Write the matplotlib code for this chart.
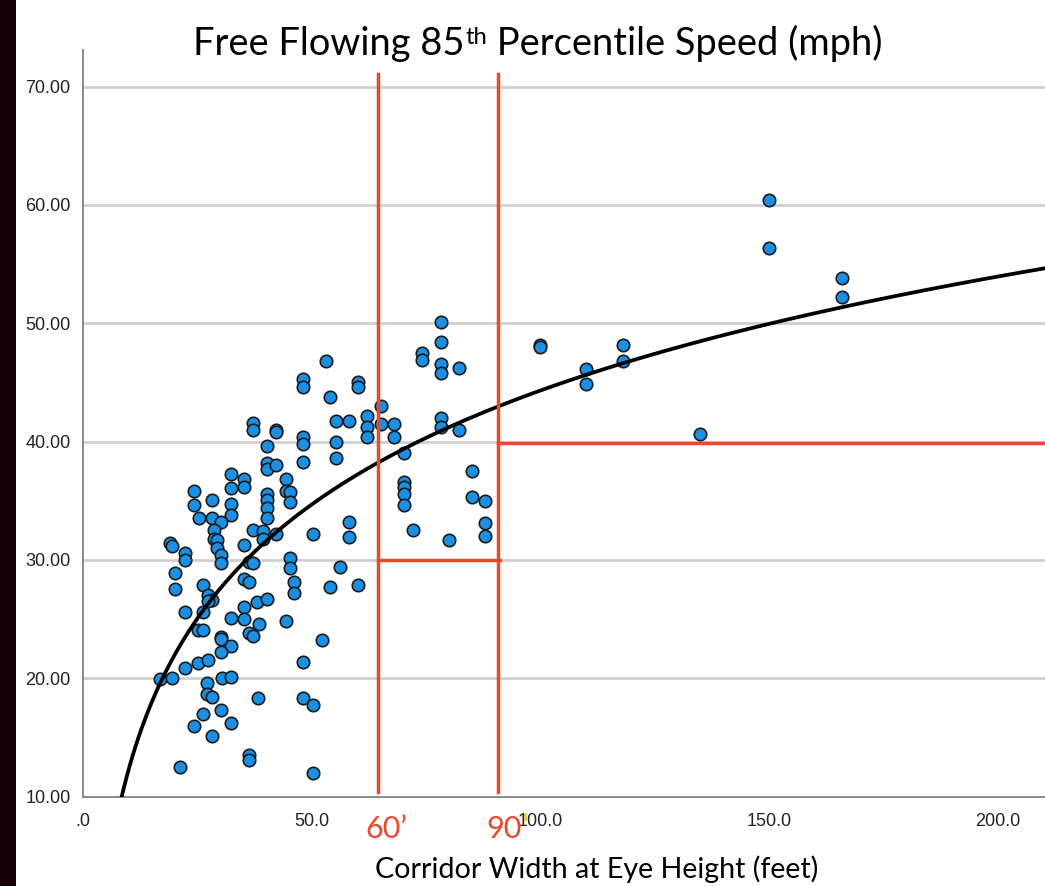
import numpy as np
import matplotlib
matplotlib.use('Agg')
import matplotlib.pyplot as plt
from matplotlib.patches import Rectangle

# ---------------- data ----------------
width_ft = [
    53.2, 48.2, 48.2, 60.1, 60.1, 54.1, 65.2, 55.3, 58.1, 62.1, 62.1, 62.1,
    65.2, 68.1, 68.1, 37.2, 37.2, 42.2, 42.2, 48.2, 48.2, 55.3, 40.2, 48.2,
    55.3, 40.2, 40.2, 42.2, 32.3, 35.3, 35.3, 44.3, 44.3, 45.2, 45.2, 24.2,
    24.2, 28.3, 32.3, 32.3, 32.3, 40.2, 40.2, 40.2, 40.2, 25.3, 28.3, 30.2,
    37.2, 39.3, 39.3, 42.2, 50.2, 58.1, 58.1, 19.1, 19.4, 28.6, 28.6, 29.2, 35.2,
    22.4, 22.4, 29.3, 30.2, 30.2, 20.2, 20.2, 26.3, 36.3, 37.2, 45.2, 45.2,
    56.2, 46.1, 46.1, 54.1, 60.1, 35.2, 36.3, 27.3, 28.3, 27.3, 22.3, 26.3,
    35.2, 38.1, 40.3, 32.3, 35.2, 38.4, 44.3, 25.2, 26.3, 36.3, 37.2, 30.2,
    30.2, 32.3, 30.2, 52.2, 22.4, 25.2, 27.3, 16.9, 19.4, 27.2, 27.2, 28.3,
    30.4, 32.3, 48.2, 38.2, 48.2, 50.2, 26.3, 30.2, 24.2, 32.3, 28.3, 36.3,
    36.3, 21.2, 50.2,
    78.2, 78.2, 74.2, 74.2, 78.2, 78.2, 82.2, 100.0, 100.0, 78.2, 78.2, 82.2,
    70.2, 70.2, 70.2, 70.2, 70.2, 85.1, 85.1, 88.0, 88.0, 88.0, 72.2, 80.1,
    150.1, 150.1, 166.0, 166.0, 135.0, 110.0, 110.0, 118.1, 118.1,
]
speed_mph = [
    46.8, 45.3, 44.6, 45.0, 44.6, 43.8, 43.0, 41.7, 41.7, 42.2, 41.2, 40.4,
    41.5, 41.5, 40.4, 41.6, 41.0, 41.0, 40.8, 40.4, 39.8, 40.0, 39.6, 38.3,
    38.6, 38.2, 37.7, 38.0, 37.3, 36.8, 36.2, 36.8, 35.8, 35.7, 34.9, 35.8,
    34.6, 35.1, 36.1, 34.7, 33.8, 35.6, 35.1, 34.4, 33.5, 33.5, 33.5, 33.2,
    32.5, 32.4, 31.8, 32.2, 32.2, 33.2, 31.9, 31.4, 31.2, 32.5, 31.8, 31.7, 31.3,
    30.6, 30.0, 31.0, 30.4, 29.7, 28.9, 27.5, 27.9, 29.8, 29.7, 30.2, 29.3,
    29.4, 28.1, 27.2, 27.7, 27.9, 28.4, 28.1, 27.0, 26.6, 26.5, 25.6, 25.6,
    26.0, 26.4, 26.7, 25.1, 25.0, 24.6, 24.8, 24.1, 24.1, 23.8, 23.6, 23.5,
    23.3, 22.7, 22.2, 23.2, 20.9, 21.3, 21.5, 19.9, 20.0, 19.6, 18.7, 18.4,
    20.0, 20.1, 21.4, 18.3, 18.3, 17.7, 17.0, 17.3, 16.0, 16.2, 15.1, 13.5,
    13.1, 12.5, 12.0,
    50.1, 48.4, 47.5, 46.9, 46.6, 45.8, 46.2, 48.2, 48.0, 42.0, 41.2, 41.0,
    39.0, 36.6, 36.2, 35.6, 34.6, 37.5, 35.3, 35.0, 33.1, 32.0, 32.5, 31.7,
    60.4, 56.4, 53.8, 52.2, 40.6, 46.1, 44.9, 48.2, 46.8,
]

# logarithmic fit: speed = fit_a + fit_b * ln(width)
fit_a = -19.7
fit_b = 13.9

x_ticks = [0, 50, 100, 150, 200]
x_tick_labels = ['.0', '50.0', '100.0', '150.0', '200.0']
y_ticks = [10, 20, 30, 40, 50, 60, 70]

# annotation lines (drawn in data units)
box_left_x = 64.5
box_right_x = 90.8
box_bottom_y = 29.95
right_level_y = 39.9
guide_top_y = 71.1
guide_bottom_y = 10.4

title_main = 'Free Flowing 85'
title_sup = 'th'
title_rest = ' Percentile Speed (mph)'
x_label = 'Corridor Width at Eye Height (feet)'
mark_60 = '60\u2019'
mark_90 = '90'
mark_90_q = '\u2019'

# ---------------- styling ----------------
W, H = 1045, 886
fig = plt.figure(figsize=(W / 100, H / 100), dpi=100)
fig.patch.set_facecolor('white')

red = '#E64A2A'
blue = '#1A8FE3'

ax_left = 83 / W
ax_bottom = (H - 796.5) / H
ax_top = 50 / H
ax = fig.add_axes([ax_left, ax_bottom, 1 - ax_left, 1 - ax_top - ax_bottom])
ax.set_xlim(0, 210.4)
ax.set_ylim(10, 73.1)

for s in ['top', 'right']:
    ax.spines[s].set_visible(False)
for s in ['left', 'bottom']:
    ax.spines[s].set_color('#8a8a8a')
    ax.spines[s].set_linewidth(1.4)

ax.set_yticks(y_ticks)
ax.set_yticklabels([f'{v:.2f}' for v in y_ticks])
ax.set_xticks(x_ticks)
ax.set_xticklabels(x_tick_labels)
ax.tick_params(axis='both', length=0, labelsize=13, colors='#222222')
ax.tick_params(axis='y', pad=9)
ax.tick_params(axis='x', pad=12)
for lab in ax.get_xticklabels() + ax.get_yticklabels():
    lab.set_fontfamily('Liberation Sans')

ax.grid(axis='y', color='#cfcfcf', linewidth=2.0, zorder=0)
ax.set_axisbelow(True)

ax.scatter(width_ft, speed_mph, s=80, facecolor=blue, edgecolor='#1b1b1b',
           linewidth=1.2, zorder=3)

xs = np.linspace(7.5, 211, 600)
ax.plot(xs, fit_a + fit_b * np.log(xs), color='black', linewidth=2.7,
        zorder=4, solid_capstyle='butt')

lw_red = 2.5
ax.plot([box_left_x, box_left_x], [guide_bottom_y, guide_top_y], color=red,
        lw=lw_red, zorder=5, clip_on=False)
ax.plot([box_right_x, box_right_x], [guide_bottom_y, guide_top_y], color=red,
        lw=lw_red, zorder=5, clip_on=False)
ax.plot([box_left_x, box_right_x + 0.5], [box_bottom_y, box_bottom_y],
        color=red, lw=lw_red, zorder=5)
ax.plot([box_right_x, 212], [right_level_y, right_level_y], color=red,
        lw=lw_red, zorder=5, clip_on=False)

# dark strip on the left edge
fig.patches.append(Rectangle((0, 0), 16 / W, 1, transform=fig.transFigure,
                             facecolor='#150008', edgecolor='none', zorder=10))

# ---------------- text ----------------
title_font = 'Lato'
fig.canvas.draw()
r = fig.canvas.get_renderer()

def fit_size(txt, target_px):
    bb = txt.get_window_extent(renderer=r)
    txt.set_fontsize(txt.get_fontsize() * target_px / bb.width)

# title composed of three pieces
t_y = 1 - 55 / H
p1 = fig.text(0, t_y, title_main, fontsize=24, family=title_font, va='baseline')
p2 = fig.text(0, t_y, title_sup, fontsize=15, family=title_font, va='baseline')
p3 = fig.text(0, t_y, title_rest, fontsize=24, family=title_font, va='baseline')
fig.canvas.draw()
w1 = p1.get_window_extent(r).width
w2 = p2.get_window_extent(r).width
w3 = p3.get_window_extent(r).width
scale = 690 / (w1 + w2 + w3)
for p in (p1, p2, p3):
    p.set_fontsize(p.get_fontsize() * scale)
fig.canvas.draw()
w1 = p1.get_window_extent(r).width
w2 = p2.get_window_extent(r).width
x0 = 193
p1.set_x(x0 / W)
p2.set_x((x0 + w1 + 1) / W)
p2.set_y(t_y + 11 / H)
p3.set_x((x0 + w1 + w2 + 1) / W)

xl = fig.text(597 / W, 1 - 878 / H, x_label, fontsize=18, family=title_font,
              ha='center', va='baseline')
fig.canvas.draw()
fit_size(xl, 442)

m60 = fig.text(386 / W, 1 - 838 / H, mark_60, fontsize=22, family=title_font,
               color=red, ha='center', va='baseline')
m90 = fig.text(486 / W, 1 - 838 / H, mark_90, fontsize=22, family=title_font,
               color=red, ha='left', va='baseline')
fig.canvas.draw()
w90 = m90.get_window_extent(r).width
fig.text((486 + w90 + 0.5) / W, 1 - 838 / H, mark_90_q, fontsize=22,
         family=title_font, color='#FFC000', ha='left', va='baseline')

fig.savefig('out.png', dpi=100, facecolor='white')
